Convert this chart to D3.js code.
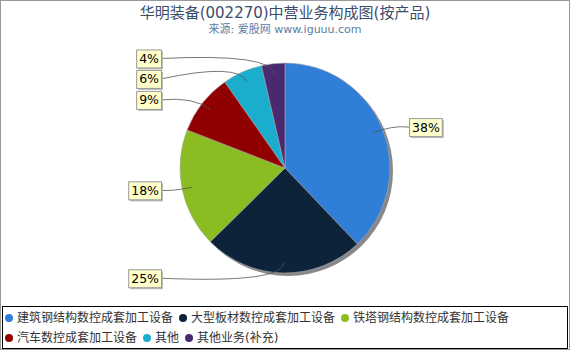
<!DOCTYPE html>
<html>
<head>
<meta charset="utf-8">
<script src="https://cdn.jsdelivr.net/npm/d3@7"></script>
<style>
  body { margin: 0; background: #fff; }
  svg { display: block; font-family: "DejaVu Sans", "Noto Sans CJK SC", sans-serif; }
</style>
</head>
<body>
<div id="chart"></div>
<script>
// data
const categories = ["建筑钢结构数控成套加工设备", "大型板材数控成套加工设备", "铁塔钢结构数控成套加工设备",
                    "汽车数控成套加工设备", "其他", "其他业务(补充)"];
const shares = [37.9, 24.7, 18.3, 9.4, 6.1, 3.6];
const labels = ["38%", "25%", "18%", "9%", "6%", "4%"];
const colors = ["#2f7ed8", "#0d233a", "#8bbc21", "#910000", "#1aadce", "#492970"];

const title = "华明装备(002270)中营业务构成图(按产品)";
const subtitle = "来源: 爱股网 www.iguuu.com";

const width = 570, height = 350;
const cx = 285, cy = 168, r = 105;

const svg = d3.select("#chart").append("svg")
  .attr("width", width)
  .attr("height", height);

// outer frame
svg.append("rect")
  .attr("x", 0.5).attr("y", 0.5)
  .attr("width", width - 1).attr("height", height - 1)
  .attr("fill", "#fff").attr("stroke", "#999");

// titles
svg.append("text")
  .attr("x", cx).attr("y", 18)
  .attr("text-anchor", "middle")
  .attr("font-size", "15px")
  .attr("fill", "#3c4d6b")
  .text(title);

svg.append("text")
  .attr("x", cx).attr("y", 33)
  .attr("text-anchor", "middle")
  .attr("font-size", "11px")
  .attr("fill", "#5b7ba3")
  .text(subtitle);

const data = categories.map((c, i) => ({ name: c, value: shares[i], label: labels[i], color: colors[i] }));

const pie = d3.pie().sort(null).value(d => d.value);
const arcs = pie(data);
const arc = d3.arc().innerRadius(0).outerRadius(r);

const g = svg.append("g").attr("transform", `translate(${cx},${cy})`);

// drop shadow of the pie
g.append("circle")
  .attr("cx", 3).attr("cy", 3).attr("r", r)
  .attr("fill", "#888");

g.selectAll("path.slice")
  .data(arcs)
  .join("path")
  .attr("class", "slice")
  .attr("d", arc)
  .attr("fill", d => d.data.color)
  .attr("stroke", "#aaa")
  .attr("stroke-width", 0.6);

// label placement: column on each side, spaced out vertically
const labelItems = arcs.map(a => {
  const mid = (a.startAngle + a.endAngle) / 2;
  return {
    a: a,
    mid: mid,
    right: mid < Math.PI,
    y: -r * 1.05 * Math.cos(mid)
  };
});
const minGap = 20.5;
[true, false].forEach(side => {
  const items = labelItems.filter(d => d.right === side).sort((p, q) => p.y - q.y);
  for (let i = 1; i < items.length; i++) {
    if (items[i].y - items[i - 1].y < minGap) items[i].y = items[i - 1].y + minGap;
  }
});

const boxGap = r + 19;
const fontSize = 12.5;

labelItems.forEach(d => {
  const x0 = 0.9 * r * Math.sin(d.mid), y0 = -0.9 * r * Math.cos(d.mid);
  const xc = 1.1 * r * Math.sin(d.mid), yc = -1.1 * r * Math.cos(d.mid);
  const x1 = d.right ? boxGap : -boxGap;
  const path = d3.path();
  path.moveTo(x0, y0);
  path.quadraticCurveTo(xc, yc, x1, d.y);
  g.append("path")
    .attr("d", path.toString())
    .attr("fill", "none")
    .attr("stroke", "#555")
    .attr("stroke-width", 0.8);

  const lg = g.append("g");
  const t = lg.append("text")
    .attr("font-size", fontSize + "px")
    .attr("fill", "#000")
    .attr("dy", "0.36em")
    .text(d.a.data.label);
  const w = t.node().getComputedTextLength() + 5;
  const bh = 18;
  const bx = d.right ? x1 : x1 - w;
  t.attr("x", bx + 3).attr("y", d.y);
  lg.insert("rect", "text")
    .attr("x", bx + 2).attr("y", d.y - bh / 2 + 2)
    .attr("width", w).attr("height", bh)
    .attr("fill", "#bbb");
  lg.insert("rect", "text")
    .attr("x", bx + 0.5).attr("y", d.y - bh / 2 + 0.5)
    .attr("width", w).attr("height", bh)
    .attr("fill", "#ffffcc").attr("stroke", "#999");
});

// legend
const legendBox = { x: 2.5, y: 306.5, w: 565, h: 42 };
svg.append("rect")
  .attr("x", legendBox.x).attr("y", legendBox.y)
  .attr("width", legendBox.w).attr("height", legendBox.h)
  .attr("fill", "#fff").attr("stroke", "#000");

const legend = svg.append("g");
let lx = 9, row = 0;
const rowY = [318, 338];
data.forEach(d => {
  const item = legend.append("g");
  const txt = item.append("text")
    .attr("font-size", "12px")
    .attr("fill", "#333")
    .attr("dy", "0.35em")
    .text(d.name);
  const tw = txt.node().getComputedTextLength();
  if (lx + 8 + tw > legendBox.x + legendBox.w - 4) { row += 1; lx = 9; }
  item.append("circle")
    .attr("cx", lx).attr("cy", rowY[row]).attr("r", 4)
    .attr("fill", d.color);
  txt.attr("x", lx + 8).attr("y", rowY[row]);
  lx += 8 + tw + 10;
});
</script>
</body>
</html>
